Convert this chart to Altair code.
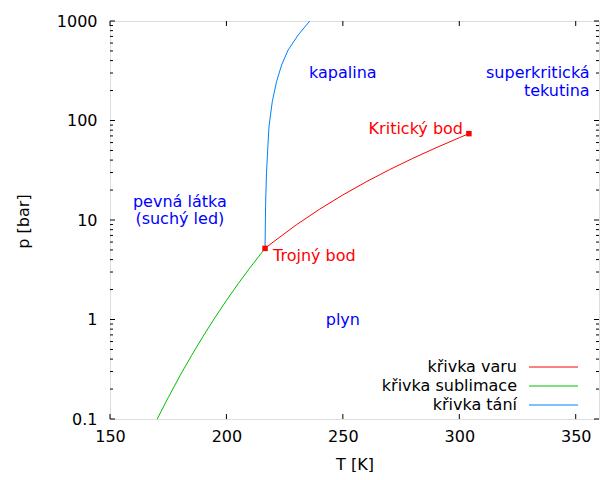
import altair as alt
import pandas as pd

# ---- data ----
subl_T = [170.0, 175.0, 180.0, 185.0, 190.0, 195.0, 200.0, 205.0, 210.0, 216.58]
subl_p = [0.097, 0.164, 0.271, 0.434, 0.679, 1.038, 1.554, 2.281, 3.285, 5.185]

vap_T = [216.58, 220.0, 230.0, 240.0, 250.0, 260.0, 270.0, 280.0, 290.0, 300.0, 304.13]
vap_p = [5.185, 5.99, 8.93, 12.83, 17.85, 24.19, 32.03, 41.61, 53.18, 67.13, 73.77]

melt_T = [216.58, 216.8, 217.2, 217.8, 218.3, 219.7, 221.5, 223.7, 226.5, 230.8, 235.8]
melt_p = [5.185, 13.6, 29.5, 55.0, 88.0, 155.0, 245.0, 361.0, 512.0, 723.0, 1000.0]

curve_names = ["křivka varu", "křivka sublimace", "křivka tání"]
curve_colors = ["#ff0000", "#00c000", "#0080ff"]

point_T = [216.58, 304.13]
point_p = [5.185, 73.77]

blue_text = ["kapalina", "pevná látka", "(suchý led)", "plyn"]
blue_T = [250.0, 180.0, 180.0, 250.0]
blue_p = [300.0, 15.2, 10.2, 1.0]

right_text = ["superkritická", "tekutina"]
right_T = [356.0, 356.0]
right_p = [300.0, 198.0]

crit_label = ["Kritický bod"]
crit_T = [301.6]
crit_p = [82.0]

triple_label = ["Trojný bod"]
triple_T = [220.0]
triple_p = [4.35]

x_major = [150, 200, 250, 300, 350]
y_major = [0.1, 1, 10, 100, 1000]
y_minor = [k * 10.0 ** d for d in range(-1, 3) for k in range(2, 10)]

W, H = 489, 398
FONT = "DejaVu Sans"

xscale = alt.Scale(domain=[150, 360], nice=False, zero=False)
yscale = alt.Scale(type="log", domain=[0.1, 1000], nice=False)

xaxis = alt.Axis(values=x_major, format="d", title="T [K]", grid=False, ticks=False,
                 domain=False, labelFontSize=16, titleFontSize=16, titleFontWeight="normal",
                 labelPadding=9, titleY=45, titleBaseline="middle", labelColor="black",
                 titleColor="black", labelFont=FONT, titleFont=FONT, labelFlush=False)
yaxis = alt.Axis(values=y_major, format="~g", title="p [bar]", grid=False, ticks=False,
                 domain=False, labelFontSize=16, titleFontSize=16, titleFontWeight="normal",
                 labelPadding=13, titleX=-87, titleY=200, titleAngle=270, titleBaseline="middle",
                 titleAlign="center", labelColor="black", titleColor="black",
                 labelFont=FONT, titleFont=FONT, labelFlush=False)

def X(f="T"):
    return alt.X(f"{f}:Q", scale=xscale, axis=xaxis)

def Y(f="p"):
    return alt.Y(f"{f}:Q", scale=yscale, axis=yaxis)

rows = []
for name, Ts, ps in [(curve_names[0], vap_T, vap_p),
                     (curve_names[1], subl_T, subl_p),
                     (curve_names[2], melt_T, melt_p)]:
    for i, (t, p) in enumerate(zip(Ts, ps)):
        rows.append({"T": t, "p": p, "curve": name, "i": i})
curves = pd.DataFrame(rows)

lines = alt.Chart(curves).mark_line(strokeWidth=1, clip=True).encode(
    x=X(), y=Y(),
    color=alt.Color("curve:N", scale=alt.Scale(domain=curve_names, range=curve_colors), legend=None),
    order="i:Q",
)

points = alt.Chart(pd.DataFrame({"T": point_T, "p": point_p})).mark_square(
    size=30, color="#ff0000", opacity=1).encode(x=X(), y=Y())

def texts(Ts, ps, labels, color, align):
    df = pd.DataFrame({"T": Ts, "p": ps, "label": labels})
    return alt.Chart(df).mark_text(font=FONT, fontSize=16, color=color, align=align,
                                   baseline="middle").encode(x=X(), y=Y(), text="label:N")

t_blue = texts(blue_T, blue_p, blue_text, "#0000ff", "center")
t_right = texts(right_T, right_p, right_text, "#0000ff", "right")
t_crit = texts(crit_T, crit_p, crit_label, "#ff0000", "right")
t_triple = texts(triple_T, triple_p, triple_label, "#ff0000", "left")

# inward ticks (gnuplot style), mirrored on top and right
dx = pd.DataFrame({"T": x_major})
dy = pd.DataFrame({"p": y_major})
dym = pd.DataFrame({"p": y_minor})
tk = dict(color="black", strokeWidth=1)
xt_bot = alt.Chart(dx).mark_rule(**tk).encode(x=X(), y=alt.value(H), y2=alt.value(H - 5))
xt_top = alt.Chart(dx).mark_rule(**tk).encode(x=X(), y=alt.value(0), y2=alt.value(5))
yt_l = alt.Chart(dy).mark_rule(**tk).encode(y=Y(), x=alt.value(0), x2=alt.value(5))
yt_r = alt.Chart(dy).mark_rule(**tk).encode(y=Y(), x=alt.value(W - 5), x2=alt.value(W))
ym_l = alt.Chart(dym).mark_rule(**tk).encode(y=Y(), x=alt.value(0), x2=alt.value(3))
ym_r = alt.Chart(dym).mark_rule(**tk).encode(y=Y(), x=alt.value(W - 3), x2=alt.value(W))

# key (bottom right, labels left of samples)
key_layers = []
key_y = [346, 365, 384]
for name, col, ky in zip(curve_names, curve_colors, key_y):
    kd = pd.DataFrame({"label": [name]})
    key_layers.append(alt.Chart(kd).mark_text(font=FONT, fontSize=16, color="black",
                                              align="right", baseline="middle").encode(
        text="label:N", x=alt.value(407), y=alt.value(ky)))
    key_layers.append(alt.Chart(kd).mark_rule(color=col, strokeWidth=1).encode(
        x=alt.value(419), x2=alt.value(468), y=alt.value(ky)))

chart = alt.layer(
    xt_bot, xt_top, yt_l, yt_r, ym_l, ym_r,
    lines, points, t_blue, t_right, t_crit, t_triple, *key_layers
).properties(
    width=W, height=H,
    padding={"left": 102, "top": 13, "right": 6, "bottom": 53},
    autosize=alt.AutoSizeParams(type="none"),
    background="white",
).configure_view(stroke="black", strokeWidth=1).configure(font=FONT)

chart.save("out.html", embed_options={"renderer": "svg", "actions": False})
